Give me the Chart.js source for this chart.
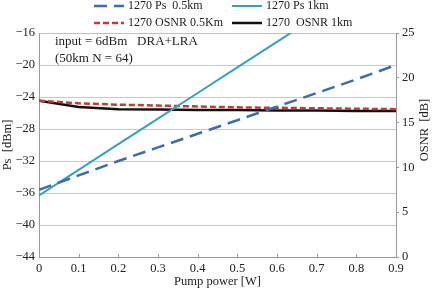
<!DOCTYPE html>
<html>
<head>
<meta charset="utf-8">
<script src="https://cdn.jsdelivr.net/npm/chart.js@4"></script>
<style>
  body { margin: 0; background: #fff; }
  #wrap { width: 433px; height: 289px; }
</style>
</head>
<body>
<div id="wrap"><canvas id="myChart" width="433" height="289"></canvas></div>
<script>
// data
var pumpPower = [0, 0.1, 0.2, 0.3, 0.4, 0.5, 0.6, 0.7, 0.8, 0.9];
var psHalfKm = [-35.6, -33.8, -32.0, -30.3, -28.6, -26.9, -25.2, -23.5, -21.8, -20.0];
var psOneKm = [-36.3, -33.1, -29.9, -26.7, -23.5, -20.3, -17.1, -13.9];
var osnrHalfKm = [17.45, 17.15, 17.0, 16.9, 16.8, 16.7, 16.65, 16.6, 16.55, 16.5];
var osnrOneKm = [17.45, 16.75, 16.5, 16.45, 16.4, 16.4, 16.35, 16.35, 16.3, 16.3];
var xTicks = [0, 0.1, 0.2, 0.3, 0.4, 0.5, 0.6, 0.7, 0.8, 0.9];
var psTicks = [-44, -40, -36, -32, -28, -24, -20, -16];
var osnrTicks = [0, 5, 10, 15, 20, 25];
var seriesNames = ['1270 Ps  0.5km', '1270 Ps 1km', '1270 OSNR 0.5Km', '1270  OSNR 1km'];

var FONT = "'Liberation Serif', 'DejaVu Serif', serif";
var TXT = '#222';

function toPoints(xs, ys) {
    return ys.map((v, i) => ({ x: xs[i], y: v }));
}
function minus(v) {
    return String(v).replace('-', '\u2212');
}

var datasets = [
    {
        label: seriesNames[0],
        data: toPoints(pumpPower, psHalfKm),
        borderColor: '#3a6db4',
        borderWidth: 2.5,
        borderDash: [13, 7],
        yAxisID: 'y',
    },
    {
        label: seriesNames[1],
        data: toPoints(pumpPower, psOneKm),
        borderColor: '#34a3bf',
        borderWidth: 2,
        yAxisID: 'y',
    },
    {
        label: seriesNames[2],
        data: toPoints(pumpPower, osnrHalfKm),
        borderColor: '#c43a37',
        borderWidth: 2.5,
        borderDash: [6, 3],
        yAxisID: 'y2',
    },
    {
        label: seriesNames[3],
        data: toPoints(pumpPower, osnrOneKm),
        borderColor: '#111111',
        borderWidth: 2.5,
        yAxisID: 'y2',
    },
];

// legend, note text, right axis title and inward x ticks
var extras = {
    id: 'extras',
    afterDatasetsDraw: function (chart) {
        var ctx = chart.ctx;
        var xs = chart.scales.x;
        var area = chart.chartArea;
        ctx.save();
        ctx.strokeStyle = '#9a9a9a';
        ctx.lineWidth = 1;
        xTicks.forEach(function (t) {
            var px = Math.round(xs.getPixelForValue(t)) + 0.5;
            ctx.beginPath();
            ctx.moveTo(px, area.bottom);
            ctx.lineTo(px, area.bottom - 3);
            ctx.stroke();
        });
        ctx.restore();
    },
    afterDraw: function (chart) {
        var ctx = chart.ctx;
        ctx.save();
        ctx.font = '12px ' + FONT;
        ctx.fillStyle = TXT;
        ctx.textBaseline = 'middle';
        var slots = [[94, 6], [232, 6], [94, 23], [232, 23]];
        chart.data.datasets.forEach(function (ds, i) {
            var sx = slots[i][0], sy = slots[i][1];
            ctx.strokeStyle = ds.borderColor;
            ctx.lineWidth = ds.borderWidth;
            ctx.setLineDash(ds.borderDash || []);
            ctx.beginPath();
            ctx.moveTo(sx, sy);
            ctx.lineTo(sx + 30, sy);
            ctx.stroke();
            ctx.setLineDash([]);
            ctx.fillText(ds.label, sx + 34, sy);
        });

        ctx.font = '13px ' + FONT;
        ctx.fillText('input = 6dBm   DRA+LRA', 55, 42);
        ctx.fillText('(50km N = 64)', 55, 59);

        ctx.font = '12.5px ' + FONT;
        ctx.translate(425, 130);
        ctx.rotate(-Math.PI / 2);
        ctx.textAlign = 'center';
        ctx.fillText('OSNR  [dB]', 0, 0);
        ctx.restore();
    }
};

var options = {
    responsive: false,
    animation: false,
    layout: { padding: { top: 33, left: 0, right: 0, bottom: 0 } },
    elements: {
        point: { radius: 0 },
        line: { tension: 0, fill: false },
    },
    plugins: {
        legend: { display: false },
        tooltip: { enabled: false },
    },
    scales: {
        x: {
            type: 'linear',
            min: 0,
            max: 0.9,
            afterFit: function (s) { s.height = 32; },
            afterBuildTicks: function (s) { s.ticks = xTicks.map(v => ({ value: v })); },
            grid: { drawOnChartArea: false, drawTicks: false },
            border: { color: '#9a9a9a', width: 1 },
            ticks: {
                padding: 4,
                color: TXT,
                font: { family: FONT, size: 12.5 },
                maxRotation: 0,
                callback: function (v) { return v === 0 ? '0' : v.toFixed(1); },
            },
            title: {
                display: true,
                text: 'Pump power [W]',
                color: TXT,
                font: { family: FONT, size: 12.5 },
                padding: { top: 0, bottom: 0 },
            },
        },
        y: {
            type: 'linear',
            position: 'left',
            min: -44,
            max: -16,
            afterFit: function (s) { s.width = 39; },
            afterBuildTicks: function (s) { s.ticks = psTicks.map(v => ({ value: v })); },
            grid: {
                drawTicks: false,
                color: function (c) { return c.tick && c.tick.value === -16 ? '#a9c5e4' : '#c9c9c9'; },
                lineWidth: 1,
            },
            border: { color: '#9a9a9a', width: 1 },
            ticks: {
                padding: 4,
                color: TXT,
                font: { family: FONT, size: 12.5 },
                callback: function (v) { return minus(v); },
            },
            title: {
                display: true,
                text: 'Ps  [dBm]',
                color: TXT,
                font: { family: FONT, size: 12.5 },
                padding: 0,
            },
        },
        y2: {
            type: 'linear',
            position: 'right',
            min: 0,
            max: 25,
            afterFit: function (s) { s.width = 37; },
            afterBuildTicks: function (s) { s.ticks = osnrTicks.map(v => ({ value: v })); },
            grid: { drawOnChartArea: false, drawTicks: true, tickLength: 3, color: '#9a9a9a' },
            border: { color: '#9a9a9a', width: 1 },
            ticks: {
                padding: 3,
                color: TXT,
                font: { family: FONT, size: 12.5 },
            },
        },
    },
};

var ctx = document.getElementById('myChart').getContext('2d');
var _myChart = new Chart(ctx, {
    type: 'line',
    data: { datasets: datasets },
    options: options,
    plugins: [extras],
});
</script>
</body>
</html>
